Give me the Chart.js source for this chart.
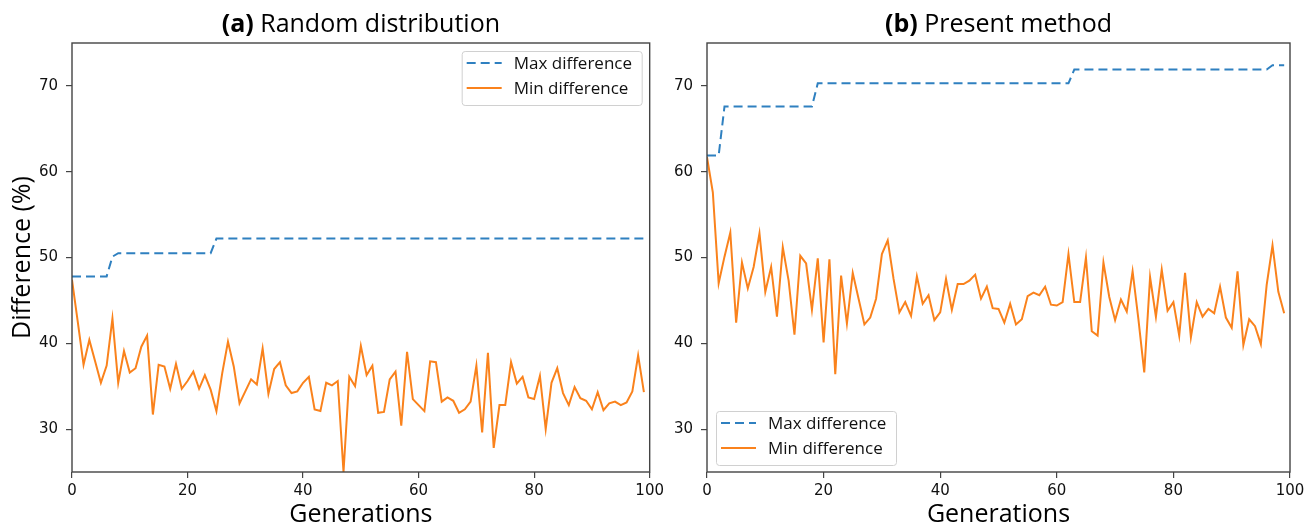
<!DOCTYPE html>
<html>
<head>
<meta charset="utf-8">
<script src="https://cdn.jsdelivr.net/npm/chart.js@4.4.0/dist/chart.umd.min.js"></script>
<style>
  body { margin: 0; background: #fff; }
  #wrap { position: relative; width: 1311px; height: 530px; overflow: hidden; }
  canvas { position: absolute; top: 0; }
  #c1 { left: 0; }
  #c2 { left: 668px; }
</style>
</head>
<body>
<div id="wrap">
  <canvas id="c1" width="668" height="530"></canvas>
  <canvas id="c2" width="643" height="530"></canvas>
</div>
<script>
// generation index 0..99
const generations = Array.from({ length: 100 }, (_, i) => i);

const xTicks = [0, 20, 40, 60, 80, 100];
const yTicks = [30, 40, 50, 60, 70];

// (a) Random distribution
const maxDiffA = [
  47.8, 47.8, 47.8, 47.8, 47.8, 47.8, 47.8, 50.1, 50.5, 50.5,
  50.5, 50.5, 50.5, 50.5, 50.5, 50.5, 50.5, 50.5, 50.5, 50.5,
  50.5, 50.5, 50.5, 50.5, 50.5, 52.2, 52.2, 52.2, 52.2, 52.2,
  52.2, 52.2, 52.2, 52.2, 52.2, 52.2, 52.2, 52.2, 52.2, 52.2,
  52.2, 52.2, 52.2, 52.2, 52.2, 52.2, 52.2, 52.2, 52.2, 52.2,
  52.2, 52.2, 52.2, 52.2, 52.2, 52.2, 52.2, 52.2, 52.2, 52.2,
  52.2, 52.2, 52.2, 52.2, 52.2, 52.2, 52.2, 52.2, 52.2, 52.2,
  52.2, 52.2, 52.2, 52.2, 52.2, 52.2, 52.2, 52.2, 52.2, 52.2,
  52.2, 52.2, 52.2, 52.2, 52.2, 52.2, 52.2, 52.2, 52.2, 52.2,
  52.2, 52.2, 52.2, 52.2, 52.2, 52.2, 52.2, 52.2, 52.2, 52.2
];
const minDiffA = [
  47.4, 42.5, 37.5, 40.4, 37.9, 35.4, 37.4, 42.9, 35.4, 39.1,
  36.6, 37.1, 39.6, 40.9, 31.7, 37.5, 37.3, 34.7, 37.6, 34.7,
  35.6, 36.7, 34.7, 36.3, 34.6, 32.1, 36.5, 40.2, 37.3, 33.0,
  34.4, 35.8, 35.2, 39.4, 34.1, 37.0, 37.8, 35.1, 34.2, 34.4,
  35.4, 36.1, 32.3, 32.1, 35.4, 35.1, 35.6, 25.0, 36.1, 35.0,
  39.7, 36.3, 37.4, 31.9, 32.0, 35.8, 36.7, 30.4, 39.0, 33.5,
  32.8, 32.1, 37.9, 37.8, 33.2, 33.7, 33.3, 31.9, 32.3, 33.2,
  37.4, 29.6, 38.9, 27.8, 32.8, 32.8, 37.8, 35.3, 36.1, 33.7,
  33.5, 36.2, 30.0, 35.4, 37.1, 34.2, 32.8, 34.9, 33.6, 33.3,
  32.3, 34.3, 32.2, 33.0, 33.2, 32.8, 33.1, 34.4, 38.6, 34.3
];

// (b) Present method
const maxDiffB = [
  61.9, 61.9, 61.9, 67.6, 67.6, 67.6, 67.6, 67.6, 67.6, 67.6,
  67.6, 67.6, 67.6, 67.6, 67.6, 67.6, 67.6, 67.6, 67.6, 70.3,
  70.3, 70.3, 70.3, 70.3, 70.3, 70.3, 70.3, 70.3, 70.3, 70.3,
  70.3, 70.3, 70.3, 70.3, 70.3, 70.3, 70.3, 70.3, 70.3, 70.3,
  70.3, 70.3, 70.3, 70.3, 70.3, 70.3, 70.3, 70.3, 70.3, 70.3,
  70.3, 70.3, 70.3, 70.3, 70.3, 70.3, 70.3, 70.3, 70.3, 70.3,
  70.3, 70.3, 70.3, 71.9, 71.9, 71.9, 71.9, 71.9, 71.9, 71.9,
  71.9, 71.9, 71.9, 71.9, 71.9, 71.9, 71.9, 71.9, 71.9, 71.9,
  71.9, 71.9, 71.9, 71.9, 71.9, 71.9, 71.9, 71.9, 71.9, 71.9,
  71.9, 71.9, 71.9, 71.9, 71.9, 71.9, 71.9, 72.4, 72.4, 72.4
];
const minDiffB = [
  61.7, 57.6, 47.0, 50.1, 52.9, 42.4, 49.4, 46.4, 48.9, 52.8,
  46.0, 48.9, 43.1, 51.2, 47.3, 41.0, 50.2, 49.3, 43.9, 49.9,
  40.1, 49.8, 36.4, 47.9, 42.3, 48.2, 45.2, 42.2, 43.0, 45.2,
  50.4, 52.0, 47.5, 43.6, 44.8, 43.2, 47.8, 44.6, 45.6, 42.7,
  43.6, 47.5, 43.9, 46.9, 46.9, 47.3, 48.0, 45.2, 46.6, 44.1,
  44.0, 42.4, 44.6, 42.2, 42.8, 45.5, 45.9, 45.6, 46.6, 44.5,
  44.4, 44.8, 50.4, 44.8, 44.8, 50.0, 41.4, 40.9, 49.4, 45.4,
  42.7, 45.1, 43.7, 48.4, 42.8, 36.6, 47.7, 43.1, 48.6, 43.8,
  44.8, 40.9, 48.2, 40.7, 44.8, 43.1, 44.0, 43.5, 46.6, 43.0,
  41.8, 48.4, 39.8, 42.8, 42.0, 39.9, 46.8, 51.4, 46.0, 43.5
];

const BLUE = '#2f80c0';
const ORANGE = '#fa821c';
const AXIS = '#444';

// frame around plot area (all four spines)
const framePlugin = {
  id: 'frame',
  afterDatasetsDraw(chart) {
    const { ctx, chartArea: a } = chart;
    ctx.save();
    ctx.strokeStyle = AXIS;
    ctx.lineWidth = 1.4;
    ctx.strokeRect(a.left, a.top, a.right - a.left, a.bottom - a.top);
    ctx.restore();
  },
};

// "(a) Random distribution" with bold tag
const panelTitle = {
  id: 'panelTitle',
  afterDraw(chart, args, opts) {
    const { ctx, chartArea: a } = chart;
    ctx.save();
    ctx.fillStyle = '#000';
    ctx.textBaseline = 'alphabetic';
    const boldFont = 'bold 25px "Open Sans"';
    const normFont = '25px "Open Sans"';
    ctx.font = boldFont;
    const w1 = ctx.measureText(opts.tag).width;
    ctx.font = normFont;
    const w2 = ctx.measureText(' ' + opts.text).width;
    let x = (a.left + a.right) / 2 - (w1 + w2) / 2;
    ctx.font = boldFont;
    ctx.fillText(opts.tag, x, 32);
    ctx.font = normFont;
    ctx.fillText(' ' + opts.text, x + w1, 32);
    ctx.restore();
  },
};

// matplotlib style legend inside the axes
const insideLegend = {
  id: 'insideLegend',
  afterDraw(chart, args, opts) {
    const { ctx, chartArea: a } = chart;
    const w = 180, h = 54;
    const bx = opts.corner === 'top-right' ? a.right - 8 - w : a.left + 9;
    const by = opts.corner === 'top-right' ? a.top + 8 : a.bottom - 7 - h;
    ctx.save();
    ctx.fillStyle = 'rgba(255,255,255,0.85)';
    ctx.strokeStyle = '#d0d0d0';
    ctx.lineWidth = 1;
    ctx.beginPath();
    ctx.roundRect(bx + 0.5, by + 0.5, w, h, 3);
    ctx.fill();
    ctx.stroke();
    chart.data.datasets.forEach((ds, i) => {
      const y = by + 12 + i * 25;
      ctx.strokeStyle = ds.borderColor;
      ctx.lineWidth = ds.borderWidth;
      ctx.setLineDash(ds.borderDash || []);
      ctx.beginPath();
      ctx.moveTo(bx + 5, y);
      ctx.lineTo(bx + 40, y);
      ctx.stroke();
      ctx.setLineDash([]);
      ctx.fillStyle = '#111';
      ctx.font = '17px "Open Sans"';
      ctx.textBaseline = 'middle';
      ctx.fillText(ds.label, bx + 52, y + 1);
    });
    ctx.restore();
  },
};

function makePanel(canvasId, maxVals, minVals, cfg) {
  const ctx = document.getElementById(canvasId).getContext('2d');
  return new Chart(ctx, {
    type: 'line',
    data: {
      datasets: [
        {
          label: 'Max difference',
          data: generations.map((g, i) => ({ x: g, y: maxVals[i] })),
          borderColor: BLUE,
          borderWidth: 2,
          borderDash: [9, 5],
          pointRadius: 0,
          tension: 0,
        },
        {
          label: 'Min difference',
          data: generations.map((g, i) => ({ x: g, y: minVals[i] })),
          borderColor: ORANGE,
          borderWidth: 2,
          pointRadius: 0,
          tension: 0,
        },
      ],
    },
    options: {
      responsive: false,
      animation: false,
      devicePixelRatio: 1,
      layout: { padding: { left: 0, right: cfg.padRight, top: 43, bottom: 0 } },
      plugins: {
        legend: { display: false },
        tooltip: { enabled: false },
        panelTitle: { tag: cfg.tag, text: cfg.title },
        insideLegend: { corner: cfg.legendCorner },
      },
      scales: {
        x: {
          type: 'linear',
          min: 0,
          max: 100,
          afterBuildTicks: (s) => { s.ticks = xTicks.map((v) => ({ value: v })); },
          afterFit: (s) => { s.height = 58; },
          grid: { display: true, drawOnChartArea: false, drawTicks: true, tickLength: 6, color: AXIS, lineWidth: 1.2 },
          border: { display: false },
          ticks: { color: '#111', font: { family: 'DejaVu Sans', size: 15 }, padding: 4, maxRotation: 0 },
          title: {
            display: true,
            text: 'Generations',
            color: '#000',
            font: { family: 'Open Sans', size: 25 },
            padding: { top: 0, bottom: 0 },
          },
        },
        y: {
          min: 25,
          max: 75,
          afterBuildTicks: (s) => { s.ticks = yTicks.map((v) => ({ value: v })); },
          afterFit: (s) => { s.width = cfg.yWidth; },
          grid: { display: true, drawOnChartArea: false, drawTicks: true, tickLength: 6, color: AXIS, lineWidth: 1.2 },
          border: { display: false },
          ticks: { color: '#111', font: { family: 'DejaVu Sans', size: 15 }, padding: 8 },
          title: {
            display: cfg.yTitle,
            text: 'Difference (%)',
            color: '#000',
            font: { family: 'Open Sans', size: 25 },
            padding: { top: 8, bottom: 0 },
          },
        },
      },
    },
    plugins: [framePlugin, panelTitle, insideLegend],
  });
}

makePanel('c1', maxDiffA, minDiffA, {
  tag: '(a)', title: 'Random distribution', legendCorner: 'top-right',
  padRight: 18, yWidth: 72, yTitle: true,
});
makePanel('c2', maxDiffB, minDiffB, {
  tag: '(b)', title: 'Present method', legendCorner: 'bottom-left',
  padRight: 21, yWidth: 39, yTitle: false,
});
</script>
</body>
</html>
